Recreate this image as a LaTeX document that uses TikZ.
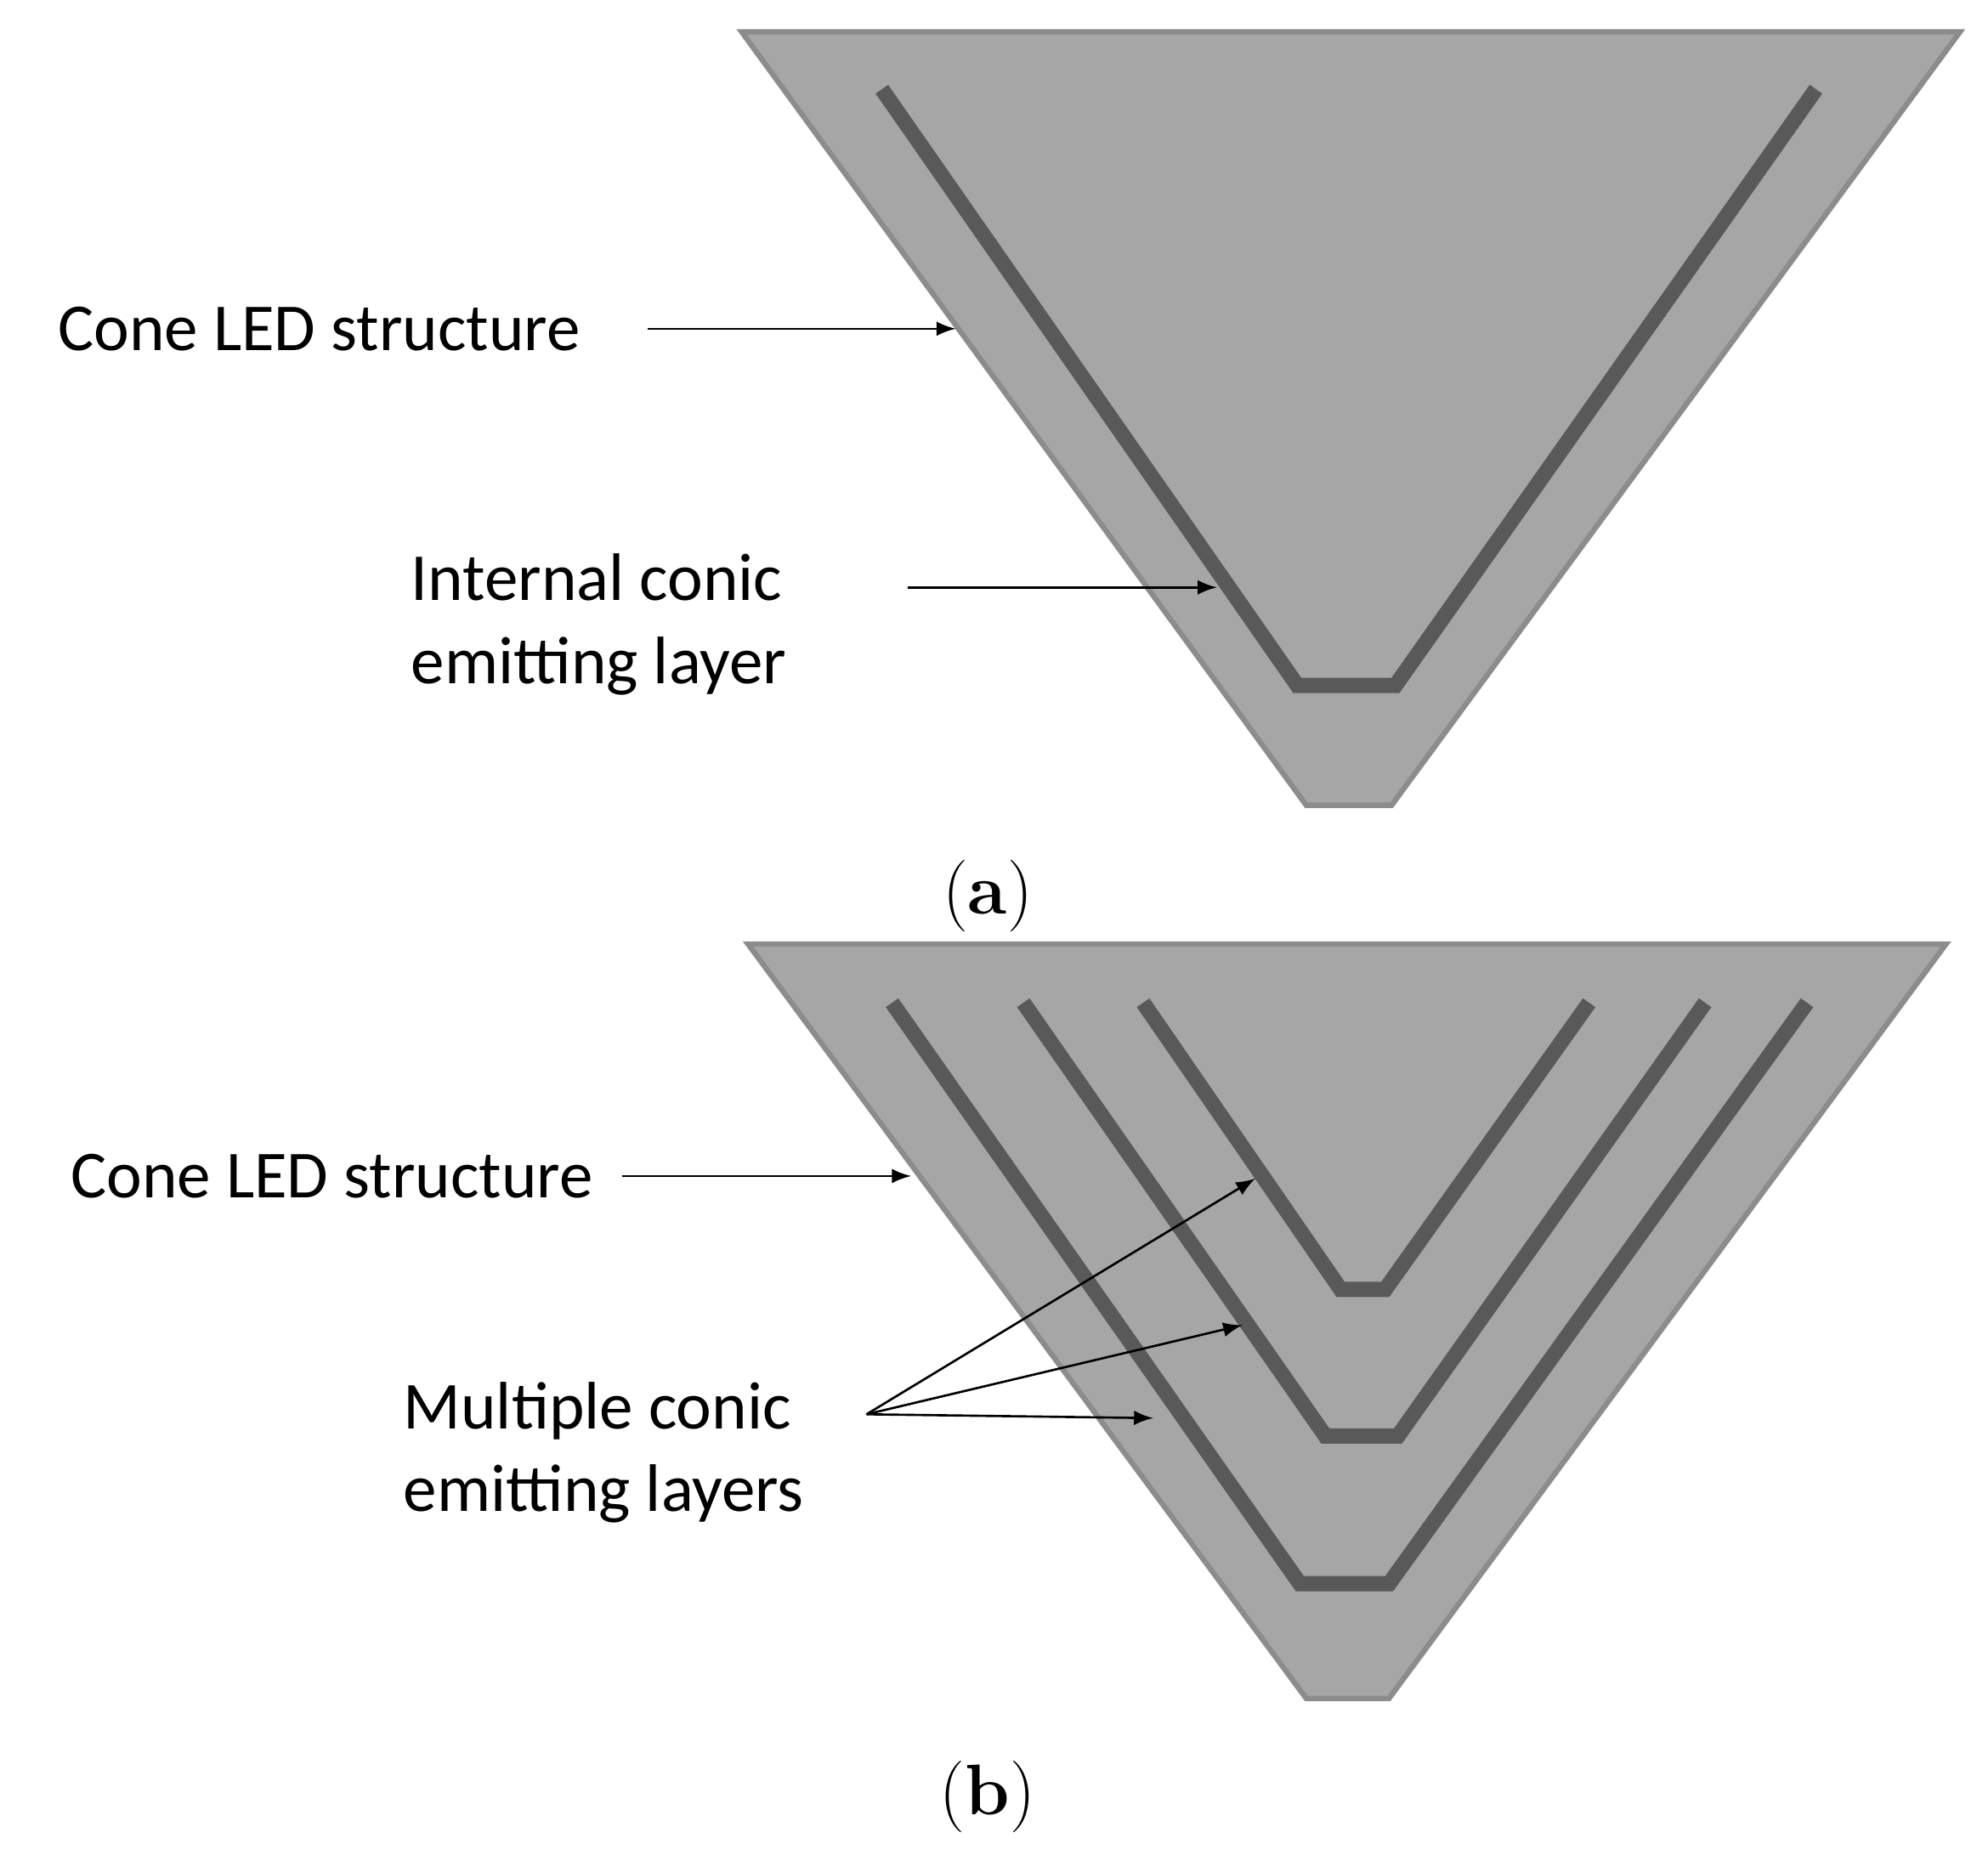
\documentclass[tikz,border=0pt]{standalone}
\usepackage{fontspec}
\setmainfont{Carlito}
\newfontfamily\capfont{Latin Modern Roman}
\begin{document}
\begin{tikzpicture}[x=0.01cm,y=-0.01cm,
  cone/.style={fill=coneGray,draw=coneEdge,line width=1.2pt},
  layer/.style={draw=layerGray,line width=0.12cm},
  lbl/.style={font=\fontsize{15}{18.5}\selectfont,anchor=west,align=left,inner sep=0},
  subcap/.style={font=\capfont\fontsize{16}{20}\selectfont},
  arr/.style={-latex,line width=0.5pt}]
\definecolor{coneGray}{HTML}{A6A6A6}
\definecolor{coneEdge}{HTML}{8C8C8C}
\definecolor{layerGray}{HTML}{595959}
\useasboundingbox (0,0) rectangle (1560,1460);
% (a)
\draw[cone] (582,25) -- (1538,25) -- (1092,632) -- (1025,632) -- cycle;
\draw[layer] (692,70) -- (1018,538) -- (1095,538) -- (1425,70);
\node[lbl] (coneA) at (45,258) {Cone LED structure};
\coordinate (coneAt) at (750,258);
\draw[arr] (508,258) -- (coneAt);
\node[lbl] (intA) at (322,490) {Internal conic\\emitting layer};
\coordinate (intAt) at (955,461);
\draw[arr] (712,461) -- (intAt);
\node[subcap] (capA) at (775,703) {(\textbf{a})};
% (b)
\draw[cone] (587,741) -- (1527,741) -- (1090,1333) -- (1025,1333) -- cycle;
\draw[layer] (700,787) -- (1020,1243) -- (1090,1243) -- (1418,787);
\draw[layer] (803,787) -- (1040,1127) -- (1097,1127) -- (1338,787);
\draw[layer] (897,787) -- (1052,1012) -- (1087,1012) -- (1247,787);
\node[lbl] (coneB) at (55,923) {Cone LED structure};
\coordinate (coneBt) at (715,923);
\draw[arr] (488,923) -- (coneBt);
\node[lbl] (multB) at (316,1140) {Multiple conic\\emitting layers};
\coordinate (src) at (680,1110);
\coordinate (t1) at (985,925);
\coordinate (t2) at (975,1040);
\coordinate (t3) at (905,1113);
\draw[arr] (src) -- (t1);
\draw[arr] (src) -- (t2);
\draw[arr] (src) -- (t3);
\node[subcap] (capB) at (775,1410) {(\textbf{b})};
\end{tikzpicture}
\end{document}
